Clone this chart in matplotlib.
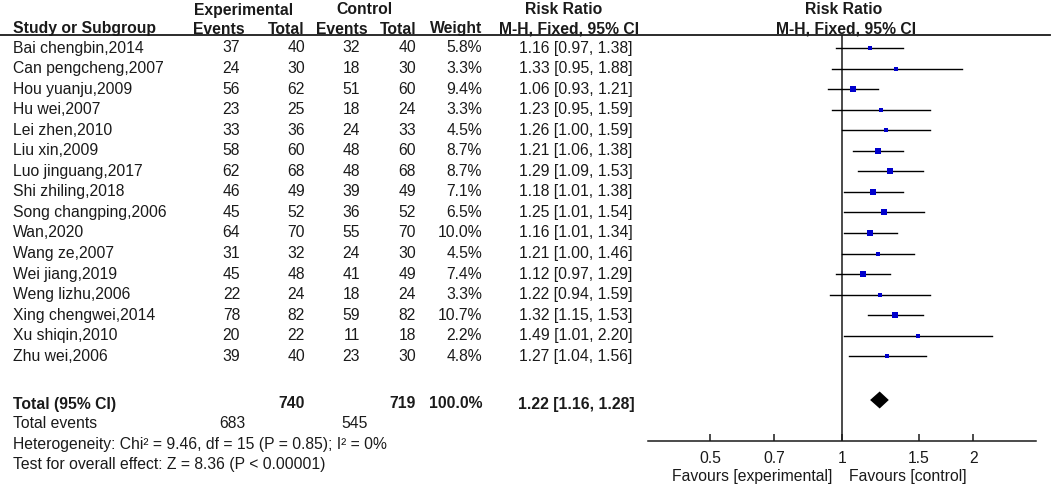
import numpy as np
import matplotlib
matplotlib.use("Agg")
import matplotlib.pyplot as plt

plt.rcParams['font.family'] = ['Liberation Sans', 'DejaVu Sans']

# study data
studies = ["Bai chengbin,2014", "Can pengcheng,2007", "Hou yuanju,2009", "Hu wei,2007",
           "Lei zhen,2010", "Liu xin,2009", "Luo jinguang,2017", "Shi zhiling,2018",
           "Song changping,2006", "Wan,2020", "Wang ze,2007", "Wei jiang,2019",
           "Weng lizhu,2006", "Xing chengwei,2014", "Xu shiqin,2010", "Zhu wei,2006"]
exp_events = [37, 24, 56, 23, 33, 58, 62, 46, 45, 64, 31, 45, 22, 78, 20, 39]
exp_total = [40, 30, 62, 25, 36, 60, 68, 49, 52, 70, 32, 48, 24, 82, 22, 40]
ctl_events = [32, 18, 51, 18, 24, 48, 48, 39, 36, 55, 24, 41, 18, 59, 11, 23]
ctl_total = [40, 30, 60, 24, 33, 60, 68, 49, 52, 70, 30, 49, 24, 82, 18, 30]
weights = [5.8, 3.3, 9.4, 3.3, 4.5, 8.7, 8.7, 7.1, 6.5, 10.0, 4.5, 7.4, 3.3, 10.7, 2.2, 4.8]
rr = [1.16, 1.33, 1.06, 1.23, 1.26, 1.21, 1.29, 1.18, 1.25, 1.16, 1.21, 1.12, 1.22, 1.32, 1.49, 1.27]
rr_lo = [0.97, 0.95, 0.93, 0.95, 1.00, 1.06, 1.09, 1.01, 1.01, 1.01, 1.00, 0.97, 0.94, 1.15, 1.01, 1.04]
rr_hi = [1.38, 1.88, 1.21, 1.59, 1.59, 1.38, 1.53, 1.38, 1.54, 1.34, 1.46, 1.29, 1.59, 1.53, 2.20, 1.56]

total_exp, total_ctl = 740, 719
events_exp, events_ctl = 683, 545
pooled, pooled_lo, pooled_hi = 1.22, 1.16, 1.28
het_text = "Heterogeneity: Chi² = 9.46, df = 15 (P = 0.85); I² = 0%"
effect_text = "Test for overall effect: Z = 8.36 (P < 0.00001)"
ticks = [0.5, 0.7, 1, 1.5, 2]

W, H = 1052, 487
fig = plt.figure(figsize=(W / 100, H / 100), dpi=100)
fs = 11.3
ink = "#1a1a1a"


def tx(x, y, s, ha="left", bold=False):
    fig.text(x / W, 1 - y / H, s, ha=ha, va="center", fontsize=fs,
             fontweight="bold" if bold else "normal", color=ink)


# column right edges (pixels)
c_ev1, c_tot1, c_ev2, c_tot2, c_w, c_rr = 245, 305, 365, 416, 482, 576

# headers
tx(244, 10, "Experimental", "center", True)
tx(364, 10, "Control", "center", True)
tx(564, 10, "Risk Ratio", "center", True)
tx(844, 10, "Risk Ratio", "center", True)
tx(13, 29, "Study or Subgroup", bold=True)
tx(c_ev1, 29, "Events", "right", True)
tx(c_tot1, 29, "Total", "right", True)
tx(c_ev2 + 3, 29, "Events", "right", True)
tx(c_tot2, 29, "Total", "right", True)
tx(c_w, 29, "Weight", "right", True)
tx(569, 29, "M-H, Fixed, 95% CI", "center", True)
tx(846, 29, "M-H, Fixed, 95% CI", "center", True)
fig.add_artist(plt.Line2D([0, 1050 / W], [1 - 35 / H, 1 - 35 / H], color=ink, lw=1.3))

y0, dy = 48, 20.55
for i, name in enumerate(studies):
    y = y0 + i * dy
    tx(13, y, name)
    tx(c_ev1 - 5, y, str(exp_events[i]), "right")
    tx(c_tot1, y, str(exp_total[i]), "right")
    tx(c_ev2 - 5, y, str(ctl_events[i]), "right")
    tx(c_tot2, y, str(ctl_total[i]), "right")
    tx(c_w, y, f"{weights[i]:.1f}%", "right")
    tx(c_rr, y, f"{rr[i]:.2f} [{rr_lo[i]:.2f}, {rr_hi[i]:.2f}]", "center")

tx(13, 404, "Total (95% CI)", bold=True)
tx(c_tot1, 404, str(total_exp), "right", True)
tx(c_tot2, 404, str(total_ctl), "right", True)
tx(c_w, 404, "100.0%", "right", True)
tx(c_rr, 404, f"{pooled:.2f} [{pooled_lo:.2f}, {pooled_hi:.2f}]", "center", True)
tx(13, 424, "Total events")
tx(c_ev1, 424, str(events_exp), "right")
tx(c_ev2 + 3, 424, str(events_ctl), "right")
tx(13, 444, het_text)
tx(13, 465, effect_text)

# forest panel, y in pixel rows
ax = fig.add_axes([648 / W, 1 - 441 / H, (1036 - 648) / W, (441 - 35) / H])
ax.set_xscale("log")
ax.set_xlim(0.36, 2.78)
ax.set_ylim(441, 35)
for s in ["top", "right", "left"]:
    ax.spines[s].set_visible(False)
ax.spines["bottom"].set_linewidth(1.1)
ax.spines["bottom"].set_color(ink)
ax.set_yticks([])
ax.set_xticks(ticks)
ax.set_xticklabels([f"{t:g}" for t in ticks], fontsize=fs, color=ink)
ax.xaxis.set_minor_locator(matplotlib.ticker.NullLocator())
ax.tick_params(axis="x", direction="in", length=5, width=1.1, pad=7, color=ink)
ax.axvline(1, color=ink, lw=1.1)

for i in range(len(studies)):
    y = y0 + i * dy
    ax.plot([rr_lo[i], rr_hi[i]], [y, y], color="black", lw=1.0)
    ax.plot(rr[i], y, marker="s", color="#0000CC", ms=1.5 + 0.85 * np.sqrt(weights[i]), mew=0)

yd = 400
ax.fill([pooled_lo, pooled, pooled_hi, pooled], [yd, yd - 8.5, yd, yd + 8.5], color="black", lw=0)

tx(832, 476, "Favours [experimental]", "right")
tx(849, 476, "Favours [control]")

fig.savefig("out.png", dpi=100)
